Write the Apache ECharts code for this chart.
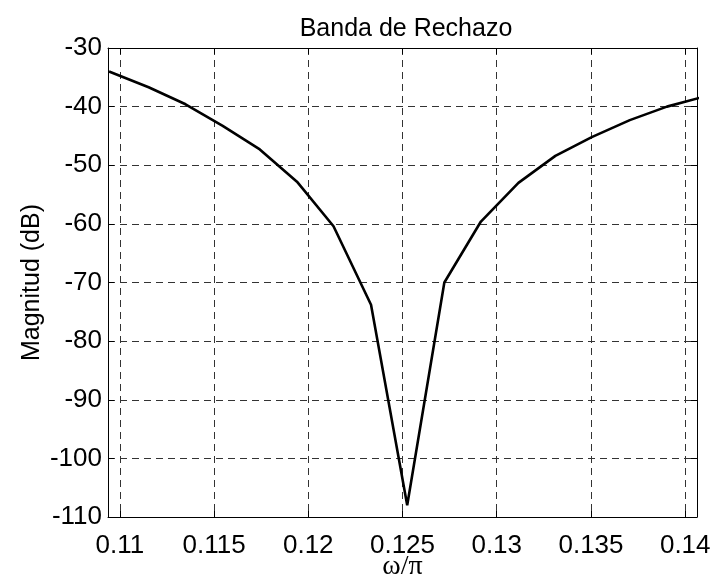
<!DOCTYPE html>
<html>
<head>
<meta charset="utf-8">
<script src="https://cdn.jsdelivr.net/npm/echarts@6/dist/echarts.min.js"></script>
<style>
  html, body { margin: 0; padding: 0; background: #fff; }
  #chart { width: 711px; height: 583px; }
</style>
</head>
<body>
<div id="chart"></div>
<script>
// Normalised frequency samples (omega / pi) around the stopband notch
const freq = [0.10943, 0.11153, 0.11349, 0.11546, 0.11743, 0.11940, 0.12134, 0.12333,
              0.12525, 0.12722, 0.12916, 0.13115, 0.13311, 0.13504, 0.13706, 0.13903, 0.14100];
// Magnitude response in dB at each sample
const magDb = [-34.0, -36.7, -39.6, -43.3, -47.3, -52.8, -60.4, -73.8,
               -108.0, -70.0, -59.6, -53.0, -48.4, -45.2, -42.3, -40.0, -38.3];
// Tick positions
const xTicks = [0.11, 0.115, 0.12, 0.125, 0.13, 0.135, 0.14];
const xRange = [0.109375, 0.140625];
const yRange = [-110, -30];

const chart = echarts.init(document.getElementById('chart'), null, { renderer: 'canvas' });

const sans = 'Liberation Sans, Arial, Helvetica, sans-serif';
const gridDash = { color: '#333', width: 1, type: [7, 5] };

const baseX = {
  type: 'value', min: xRange[0], max: xRange[1],
  axisLine: { show: true, onZero: false, lineStyle: { color: '#000', width: 1 } },
  axisTick: { show: true, inside: true, length: 6, customValues: xTicks, lineStyle: { color: '#000' } }
};
const baseY = {
  type: 'value', min: yRange[0], max: yRange[1], interval: 10,
  axisLine: { show: true, onZero: false, lineStyle: { color: '#000', width: 1 } },
  axisTick: { show: true, inside: true, length: 6, lineStyle: { color: '#000' } }
};

chart.setOption({
  animation: false,
  backgroundColor: '#fff',
  title: {
    text: 'Banda de Rechazo', left: 401, top: 12, textAlign: 'center',
    textStyle: { fontFamily: sans, fontSize: 25, fontWeight: 'normal', color: '#000' }
  },
  grid: { left: 108, right: 14, top: 48, bottom: 66, containLabel: false, outerBoundsMode: 'none' },
  xAxis: [
    Object.assign({}, baseX, {
      position: 'bottom',
      name: 'ω/π', nameLocation: 'middle', nameGap: 36, nameMoveOverlap: false,
      nameTextStyle: { fontFamily: 'Liberation Serif, Times New Roman, serif', fontSize: 28, color: '#000' },
      axisLabel: { show: true, customValues: xTicks, margin: 16, fontFamily: sans, fontSize: 26, color: '#000',
                   formatter: v => String(+v.toFixed(3)) },
      splitLine: { show: true, lineStyle: gridDash }
    }),
    Object.assign({}, baseX, {
      position: 'top',
      axisLabel: { show: false },
      splitLine: { show: false }
    })
  ],
  yAxis: [
    Object.assign({}, baseY, {
      position: 'left',
      name: 'Magnitud (dB)', nameLocation: 'middle', nameGap: 63, nameRotate: 90, nameMoveOverlap: false,
      nameTextStyle: { fontFamily: sans, fontSize: 25, color: '#000' },
      axisLabel: { show: true, margin: 6, fontFamily: sans, fontSize: 26, color: '#000' },
      splitLine: { show: true, lineStyle: gridDash }
    }),
    Object.assign({}, baseY, {
      position: 'right',
      axisLabel: { show: false },
      splitLine: { show: false }
    })
  ],
  series: [{
    type: 'line',
    data: freq.map((f, i) => [f, magDb[i]]),
    xAxisIndex: 0, yAxisIndex: 0,
    showSymbol: false, clip: true,
    lineStyle: { color: '#000', width: 2.6 }
  }]
});
</script>
</body>
</html>
